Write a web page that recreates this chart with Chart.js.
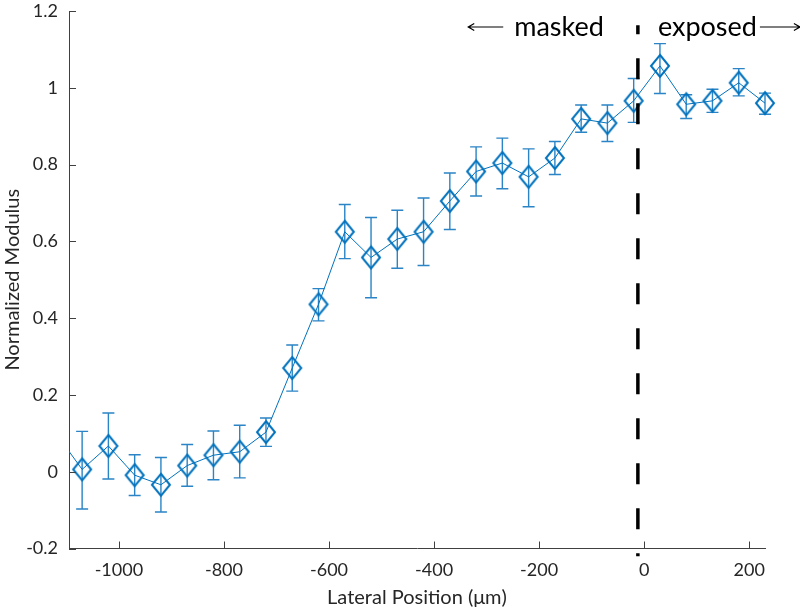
<!DOCTYPE html>
<html>
<head>
<meta charset="utf-8">
<script src="https://cdn.jsdelivr.net/npm/chart.js@4.4.0/dist/chart.umd.min.js"></script>
<style>
  html, body { margin: 0; padding: 0; background: #fff; }
  canvas { display: block; }
</style>
</head>
<body>
<canvas id="modChart" width="800" height="612"></canvas>
<script>
// lateral position (um); the first point sits just outside the axis and is clipped
const positions = [-1120, -1070, -1020, -970, -920, -870, -820, -770, -720, -670, -620, -570, -520, -470,
  -420, -370, -320, -270, -220, -170, -120, -70, -20, 30, 80, 130, 180, 230];
const modulus = [0.10, 0.006, 0.067, -0.009, -0.034, 0.016, 0.043, 0.052, 0.103, 0.270, 0.436, 0.625, 0.558, 0.606,
  0.625, 0.705, 0.782, 0.804, 0.768, 0.817, 0.919, 0.908, 0.966, 1.057, 0.957, 0.966, 1.013, 0.960];
const errTop = [null, 0.105, 0.153, 0.044, 0.037, 0.071, 0.106, 0.121, 0.140, 0.330, 0.477, 0.696, 0.662, 0.681,
  0.713, 0.778, 0.846, 0.869, 0.841, 0.860, 0.955, 0.955, 1.024, 1.115, 0.982, 0.996, 1.050, 0.986];
const errBottom = [null, -0.097, -0.019, -0.062, -0.105, -0.038, -0.021, -0.016, 0.066, 0.210, 0.393, 0.555, 0.453, 0.530,
  0.537, 0.631, 0.718, 0.737, 0.690, 0.774, 0.884, 0.860, 0.910, 0.985, 0.920, 0.936, 0.979, 0.931];

const xTicks = [-1000, -800, -600, -400, -200, 0, 200];
const yTicks = [-0.2, 0, 0.2, 0.4, 0.6, 0.8, 1, 1.2];

// dashed boundary between masked / exposed
const boundaryX = -12;
const boundaryY = [1.163, -0.22];

const blue = '#0072BD';
const axisGray = '#404040';
const textGray = '#262626';
const fontFam = 'Lato, "Open Sans", sans-serif';

function diamondMarker() {
  const c = document.createElement('canvas');
  c.width = 22; c.height = 26;
  const g = c.getContext('2d');
  g.strokeStyle = blue;
  g.lineWidth = 2;
  g.beginPath();
  g.moveTo(11, 2); g.lineTo(20, 13); g.lineTo(11, 24); g.lineTo(2, 13);
  g.closePath();
  g.stroke();
  return c;
}

const errorBars = {
  id: 'errorBars',
  beforeDatasetsDraw(chart) {
    const { ctx, chartArea, scales: { x, y } } = chart;
    ctx.save();
    ctx.beginPath();
    ctx.rect(chartArea.left, 0, chart.width - chartArea.left, chart.height);
    ctx.clip();
    ctx.strokeStyle = '#2a84c6';
    ctx.lineWidth = 1.4;
    positions.forEach((p, i) => {
      if (errTop[i] == null) return;
      const px = x.getPixelForValue(p);
      const top = y.getPixelForValue(errTop[i]);
      const bot = y.getPixelForValue(errBottom[i]);
      ctx.beginPath();
      ctx.moveTo(px, top); ctx.lineTo(px, bot);
      ctx.moveTo(px - 6, top); ctx.lineTo(px + 6, top);
      ctx.moveTo(px - 6, bot); ctx.lineTo(px + 6, bot);
      ctx.stroke();
    });
    ctx.restore();
  }
};

// MATLAB style ticks pointing into the plot
const innerTicks = {
  id: 'innerTicks',
  afterDraw(chart) {
    const { ctx, chartArea, scales: { x, y } } = chart;
    ctx.save();
    ctx.strokeStyle = axisGray;
    ctx.lineWidth = 1;
    ctx.beginPath();
    y.ticks.forEach(t => {
      const py = Math.round(y.getPixelForValue(t.value)) + 0.5;
      ctx.moveTo(chartArea.left, py); ctx.lineTo(chartArea.left + 7, py);
    });
    x.ticks.forEach(t => {
      const px = Math.round(x.getPixelForValue(t.value)) + 0.5;
      ctx.moveTo(px, chartArea.bottom); ctx.lineTo(px, chartArea.bottom - 7);
    });
    ctx.stroke();
    ctx.restore();
  }
};

const sideLabels = {
  id: 'sideLabels',
  afterDraw(chart) {
    const { ctx, scales: { x } } = chart;
    const bx = x.getPixelForValue(boundaryX);
    ctx.save();
    ctx.fillStyle = '#000';
    ctx.strokeStyle = '#000';
    ctx.lineWidth = 1.2;
    ctx.font = '27px ' + fontFam;
    ctx.textBaseline = 'alphabetic';

    const mw = ctx.measureText('masked').width;
    const mRight = bx - 34;
    ctx.textAlign = 'right';
    ctx.fillText('masked', mRight, 36);
    const mLeft = mRight - mw;
    ctx.beginPath();
    ctx.moveTo(mLeft - 11, 27); ctx.lineTo(mLeft - 46, 27);
    ctx.moveTo(mLeft - 40, 23.5); ctx.lineTo(mLeft - 46, 27); ctx.lineTo(mLeft - 40, 30.5);
    ctx.stroke();

    const ew = ctx.measureText('exposed').width;
    const eLeft = bx + 20;
    ctx.textAlign = 'left';
    ctx.fillText('exposed', eLeft, 36);
    const eRight = eLeft + ew;
    ctx.beginPath();
    ctx.moveTo(eRight + 3, 27); ctx.lineTo(eRight + 43, 27);
    ctx.moveTo(eRight + 37, 23.5); ctx.lineTo(eRight + 43, 27); ctx.lineTo(eRight + 37, 30.5);
    ctx.stroke();
    ctx.restore();
  }
};

const ctx = document.getElementById('modChart').getContext('2d');
const chart = new Chart(ctx, {
  type: 'scatter',
  data: {
    datasets: [
      {
        label: 'boundary',
        data: boundaryY.map(v => ({ x: boundaryX, y: v })),
        showLine: true,
        borderColor: '#000',
        borderWidth: 3.5,
        borderDash: [21, 24],
        borderDashOffset: 12,
        pointRadius: 0,
        clip: false,
        order: 0
      },
      {
        label: 'modulus',
        data: positions.map((p, i) => ({ x: p, y: modulus[i] })),
        showLine: true,
        borderColor: blue,
        borderWidth: 1,
        tension: 0,
        pointStyle: diamondMarker(),
        pointRadius: 10,
        pointHoverRadius: 10,
        clip: { left: 0, right: false, top: false, bottom: false },
        order: 1
      }
    ]
  },
  options: {
    responsive: false,
    animation: false,
    events: [],
    layout: { padding: { top: 8, right: 35, bottom: 0, left: 0 } },
    plugins: { legend: { display: false }, tooltip: { enabled: false } },
    scales: {
      x: {
        type: 'linear',
        min: -1095,
        max: 230,
        grid: { display: false, drawTicks: false },
        border: { display: true, color: axisGray, width: 1 },
        afterBuildTicks: s => { s.ticks = xTicks.map(v => ({ value: v })); },
        afterFit: s => { s.height = 63.5; s.paddingLeft = 0; s.paddingRight = 0; },
        ticks: {
          padding: 11,
          color: textGray,
          font: { family: fontFam, size: 18 },
          maxRotation: 0,
          callback: v => String(v)
        },
        title: {
          display: true,
          text: 'Lateral Position (μm)',
          color: textGray,
          font: { family: fontFam, size: 20 },
          padding: { top: 0, bottom: 2 }
        }
      },
      y: {
        type: 'linear',
        min: -0.2,
        max: 1.2,
        grid: { display: false, drawTicks: false },
        border: { display: true, color: axisGray, width: 1 },
        afterBuildTicks: s => { s.ticks = yTicks.map(v => ({ value: v })); },
        afterFit: s => { s.width = 69; s.paddingTop = 0; s.paddingBottom = 0; },
        ticks: {
          padding: 11,
          color: textGray,
          font: { family: fontFam, size: 18 },
          callback: v => String(Math.round(v * 10) / 10)
        },
        title: {
          display: true,
          text: 'Normalized Modulus',
          color: textGray,
          font: { family: fontFam, size: 20 },
          padding: { top: 1, bottom: 0 }
        }
      }
    }
  },
  plugins: [errorBars, innerTicks, sideLabels]
});
</script>
</body>
</html>
